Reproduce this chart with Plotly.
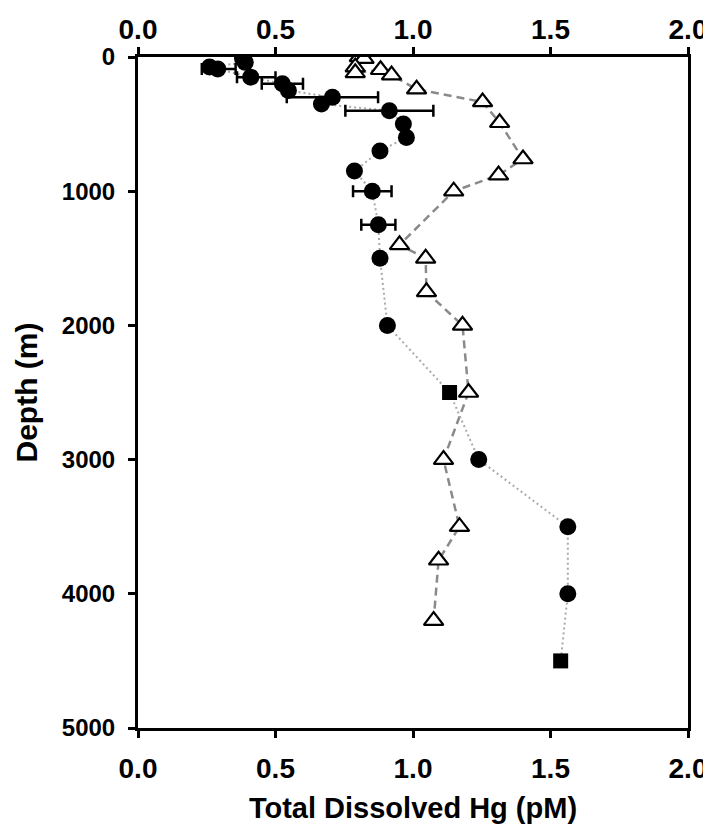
import plotly.graph_objects as go

# Filled circles (Hg in pM, depth in m)
circ_hg    = [0.38, 0.39, 0.26, 0.29, 0.41, 0.525, 0.547, 0.707, 0.667, 0.914, 0.965, 0.976, 0.88, 0.787, 0.852, 0.874, 0.88, 0.907, 1.239, 1.563, 1.563]
circ_depth = [10, 40, 75, 90, 150, 200, 250, 300, 350, 400, 500, 600, 700, 850, 1000, 1250, 1500, 2000, 3000, 3500, 4000]
circ_err_plus  = [0, 0, 0, 0.065, 0.09, 0.075, 0, 0.166, 0, 0.16, 0, 0, 0, 0, 0.07, 0.062, 0, 0, 0, 0, 0]
circ_err_minus = [0, 0, 0, 0.058, 0.05, 0.075, 0, 0.166, 0, 0.16, 0, 0, 0, 0, 0.07, 0.062, 0, 0, 0, 0, 0]

# Filled squares
sq_hg    = [1.133, 1.537]
sq_depth = [2500, 4500]

# Open triangles
tri_hg    = [0.805, 0.822, 0.79, 0.79, 0.882, 0.922, 1.013, 1.253, 1.315, 1.40, 1.311, 1.148, 0.951, 1.046, 1.049, 1.18, 1.202, 1.111, 1.169, 1.093, 1.075]
tri_depth = [0, 12, 75, 118, 95, 135, 240, 335, 490, 760, 880, 1000, 1400, 1500, 1750, 2000, 2500, 3000, 3500, 3750, 4200]

x_ticks = [0.0, 0.5, 1.0, 1.5, 2.0]
y_ticks = [0, 1000, 2000, 3000, 4000, 5000]

# combined path for dotted line (circles + squares sorted by depth)
all_pts = sorted(zip(circ_depth + sq_depth, circ_hg + sq_hg))
line_depth = [p[0] for p in all_pts]
line_hg = [p[1] for p in all_pts]

FONT = "Liberation Sans, Arial, sans-serif"

fig = go.Figure()
fig.add_trace(go.Scatter(x=tri_hg, y=tri_depth, mode="lines",
                         line=dict(color="#8a8a8a", width=2.5, dash="8px,5px"),
                         hoverinfo="skip", showlegend=False))
fig.add_trace(go.Scatter(x=line_hg, y=line_depth, mode="lines",
                         line=dict(color="#aaaaaa", width=2, dash="2px,3px"),
                         hoverinfo="skip", showlegend=False))
fig.add_trace(go.Scatter(x=circ_hg, y=circ_depth, mode="markers",
                         marker=dict(symbol="circle", size=17, color="black"),
                         error_x=dict(type="data", symmetric=False, array=circ_err_plus,
                                      arrayminus=circ_err_minus, color="black",
                                      thickness=2.5, width=6),
                         showlegend=False))
fig.add_trace(go.Scatter(x=sq_hg, y=sq_depth, mode="markers",
                         marker=dict(symbol="square", size=15, color="black"),
                         showlegend=False))
fig.add_trace(go.Scatter(x=tri_hg, y=tri_depth, mode="markers",
                         marker=dict(symbol="triangle-up", size=17, color="white",
                                     line=dict(color="black", width=2.2)),
                         showlegend=False))
# invisible trace on top axis
fig.add_trace(go.Scatter(x=[0, 2], y=[0, 0], xaxis="x2", mode="markers",
                         marker=dict(opacity=0), hoverinfo="skip", showlegend=False))

tickfont_x = dict(family=FONT, size=28, color="black", weight="bold")
tickfont_y = dict(family=FONT, size=24, color="black", weight="bold")

fig.update_layout(
    width=703, height=816,
    margin=dict(l=130, r=23, t=49, b=96, autoexpand=False),
    paper_bgcolor="white", plot_bgcolor="white",
    font=dict(family=FONT, color="black"),
    xaxis=dict(range=[0, 2], tickvals=x_ticks, ticktext=[f"{v:.1f}" for v in x_ticks],
               showgrid=False, zeroline=False, showline=True, linecolor="black", linewidth=3,
               ticks="outside", ticklen=7, tickwidth=2.5, tickcolor="black",
               tickfont=tickfont_x, ticklabelstandoff=6, automargin=False,
               ticklabeloverflow="allow",
               title=dict(text="Total Dissolved Hg (pM)",
                          font=dict(family=FONT, size=29, weight="bold"), standoff=17)),
    xaxis2=dict(range=[0, 2], tickvals=x_ticks, ticktext=[f"{v:.1f}" for v in x_ticks],
                overlaying="x", side="top", matches="x", automargin=False,
                ticklabeloverflow="allow",
                showgrid=False, zeroline=False, showline=True, linecolor="black", linewidth=3,
                ticks="outside", ticklen=7, tickwidth=2.5, tickcolor="black",
                tickfont=tickfont_x, ticklabelstandoff=-3),
    yaxis=dict(range=[5000, 0], tickvals=y_ticks, ticktext=[str(v) for v in y_ticks],
               showgrid=False, zeroline=False, showline=True, mirror=True,
               linecolor="black", linewidth=3, automargin=False,
               ticks="outside", ticklen=7, tickwidth=2.5, tickcolor="black",
               tickfont=tickfont_y, ticklabelstandoff=8,
               title=dict(text="Depth (m)",
                          font=dict(family=FONT, size=30, weight="bold"), standoff=16)),
)

fig.write_html("out.html")
